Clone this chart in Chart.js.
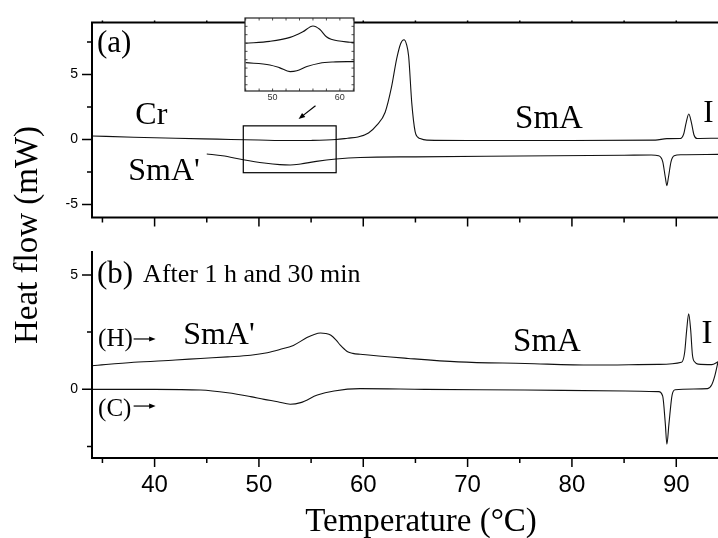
<!DOCTYPE html>
<html>
<head>
<meta charset="utf-8">
<script src="https://cdn.jsdelivr.net/npm/chart.js@4.4.1/dist/chart.umd.min.js"></script>
<style>
    html, body { margin: 0; padding: 0; background: #fff; overflow: hidden; }
    #wrap { position: relative; width: 718px; height: 538px; }
    canvas { position: absolute; }
</style>
</head>
<body>
<div id="wrap">
    <canvas id="bottomChart" width="718" height="538" style="left:0;top:0;width:718px;height:538px"></canvas>
    <canvas id="topChart" width="718" height="240" style="left:0;top:0;width:718px;height:240px"></canvas>
    <canvas id="insetChart" width="130" height="95" style="left:230px;top:10px;width:130px;height:95px"></canvas>
</div>
<script>
// Panel (a): heating run
const tempAHeat = [34, 38, 42, 46, 50, 53, 55, 57.4, 58.5, 59.5, 60.5, 61.3, 62.1, 62.7, 63.2, 63.6, 63.9, 64.15, 64.35, 64.65, 64.97, 65.2, 65.45, 66.1, 70, 80, 88, 89.1, 90.4, 90.7, 90.95, 91.2, 91.45, 91.7, 92.0, 94];
const flowAHeat = [0.27, 0.18, 0.1, 0.03, -0.04, -0.08, -0.07, 0.0, 0.1, 0.2, 0.5, 1.1, 2.1, 4.0, 6.2, 7.4, 7.67, 7.3, 6.4, 2.8, 0.6, 0.2, 0.07, -0.05, -0.08, -0.08, -0.05, 0.07, 0.08, 0.4, 1.3, 1.96, 1.3, 0.35, 0.08, 0.1];
// Panel (a): cooling run
const tempACool = [45.0, 46.5, 48.5, 50.5, 52, 53, 54, 55.5, 57.4, 59.7, 65, 75, 85, 87.6, 88.3, 88.7, 88.95, 89.1, 89.25, 89.5, 89.8, 90.5, 94];
const flowACool = [-1.11, -1.25, -1.55, -1.8, -1.93, -1.96, -1.88, -1.68, -1.5, -1.38, -1.33, -1.27, -1.21, -1.19, -1.25, -1.7, -2.9, -3.54, -2.9, -1.7, -1.25, -1.17, -1.14];

// Panel (b): heating run after 1 h 30 min
const tempBHeat = [34, 38, 42, 44.4, 47, 49.2, 50.8, 52, 53.3, 54.6, 55.3, 55.9, 56.4, 56.9, 57.4, 57.8, 58.2, 58.5, 59.0, 59.7, 64.3, 69.1, 75.5, 81.9, 88.3, 90.5, 90.8, 91.0, 91.19, 91.38, 91.55, 91.8, 92.1, 93.4, 94.0];
const flowBHeat = [1.03, 1.18, 1.28, 1.35, 1.42, 1.49, 1.6, 1.74, 1.92, 2.26, 2.4, 2.46, 2.44, 2.36, 2.15, 1.93, 1.75, 1.64, 1.57, 1.53, 1.35, 1.2, 1.13, 1.06, 1.09, 1.18, 1.6, 2.6, 3.3, 2.6, 1.5, 1.18, 1.1, 1.08, 1.2];
// Panel (b): cooling run
const tempBCool = [34, 40, 44.4, 47, 49.2, 50.5, 51.8, 53.0, 54.0, 55.6, 57.2, 59.7, 65.9, 75.5, 85.1, 88.3, 88.7, 88.95, 89.1, 89.3, 89.6, 89.9, 93.0, 93.4, 93.7, 94.0];
const flowBCool = [0.0, 0.0, -0.03, -0.15, -0.32, -0.44, -0.54, -0.65, -0.58, -0.25, -0.07, 0.03, 0.0, -0.03, -0.07, -0.1, -0.3, -1.5, -2.4, -1.5, -0.25, -0.02, 0.03, 0.2, 0.6, 1.2];

// Inset: magnified 46-62 °C region of panel (a)
const tempInsetUp = [46, 49.6, 52.6, 54.5, 56.0, 57.0, 58.0, 58.7, 61.5, 62.1];
const flowInsetUp = [-0.21, -0.12, 0.07, 0.34, 0.62, 0.46, 0.10, -0.02, -0.16, -0.17];
const tempInsetLow = [46, 49.6, 51, 52.6, 53.6, 55.1, 57.0, 59.0, 62.1];
const flowInsetLow = [-1.14, -1.25, -1.38, -1.57, -1.53, -1.33, -1.17, -1.11, -1.09];

// Tick values
const xTicks = [40, 50, 60, 70, 80, 90];
const xMinorTicks = [35, 45, 55, 65, 75, 85];
const yTicksA = [-5, 0, 5];
const yMinorA = [-2.5, 2.5, 7.5];
const yTicksB = [0, 5];
const yMinorB = [-2.5, 2.5];
const insetXTicks = [50, 60];
const insetXMinor = [46, 48, 52, 54, 56, 58, 62];
const insetYMinor = [-2.2, -1.8, -1.4, -1.0, -0.6, -0.2, 0.2, 0.6];

const SERIF = "'Liberation Serif', 'Times New Roman', serif";
const SANS = "'Liberation Sans', Arial, sans-serif";

function toPoints(xs, ys) {
    return xs.map((x, i) => ({ x: x, y: ys[i] }));
}

function curve(xs, ys) {
    return {
        data: toPoints(xs, ys),
        showLine: true,
        borderColor: "#111",
        borderWidth: 1.1,
        pointRadius: 0,
        cubicInterpolationMode: "monotone",
        fill: false
    };
}

// Draws the axis frame and the tick marks (major + minor)
function framePlugin(cfg) {
    return {
        id: "frame",
        afterDraw(chart) {
            const { ctx, chartArea: a, scales: { x, y } } = chart;
            ctx.save();
            ctx.strokeStyle = "#000";
            ctx.lineCap = "square";
            ctx.lineWidth = cfg.frameWidth;
            ctx.beginPath();
            if (cfg.top) { ctx.moveTo(a.left, a.top); ctx.lineTo(a.right, a.top); }
            if (cfg.right) { ctx.moveTo(a.right, a.top); ctx.lineTo(a.right, a.bottom); }
            ctx.moveTo(a.left, a.top); ctx.lineTo(a.left, a.bottom);
            ctx.moveTo(a.left, a.bottom); ctx.lineTo(a.right, a.bottom);
            ctx.stroke();

            ctx.lineCap = "butt";
            ctx.lineWidth = cfg.tickWidth;
            ctx.beginPath();
            (cfg.yMajor || []).forEach(v => {
                const py = y.getPixelForValue(v);
                ctx.moveTo(a.left - cfg.yMajorLen, py); ctx.lineTo(a.left, py);
            });
            (cfg.yMinor || []).forEach(v => {
                const py = y.getPixelForValue(v);
                ctx.moveTo(a.left - cfg.yMinorLen, py); ctx.lineTo(a.left, py);
            });
            (cfg.xMajor || []).forEach(v => {
                const px = x.getPixelForValue(v);
                ctx.moveTo(px, a.bottom); ctx.lineTo(px, a.bottom + cfg.xMajorLen);
                if (cfg.topTicks) { ctx.moveTo(px, a.top); ctx.lineTo(px, a.top + cfg.topTicks); }
            });
            (cfg.xMinor || []).forEach(v => {
                const px = x.getPixelForValue(v);
                ctx.moveTo(px, a.bottom); ctx.lineTo(px, a.bottom + cfg.xMinorLen);
                if (cfg.topTicks) { ctx.moveTo(px, a.top); ctx.lineTo(px, a.top + cfg.topTicks); }
            });
            ctx.stroke();
            ctx.restore();
        }
    };
}

function drawArrow(ctx, x1, y1, x2, y2, head) {
    const ang = Math.atan2(y2 - y1, x2 - x1);
    ctx.beginPath();
    ctx.moveTo(x1, y1);
    ctx.lineTo(x2 - Math.cos(ang) * head * 0.6, y2 - Math.sin(ang) * head * 0.6);
    ctx.stroke();
    ctx.beginPath();
    ctx.moveTo(x2, y2);
    ctx.lineTo(x2 - head * Math.cos(ang - 0.38), y2 - head * Math.sin(ang - 0.38));
    ctx.lineTo(x2 - head * Math.cos(ang + 0.38), y2 - head * Math.sin(ang + 0.38));
    ctx.closePath();
    ctx.fill();
}

// Text labels, arrows and the zoom box, placed in data coordinates
function notesPlugin(cfg) {
    return {
        id: "notes",
        afterDraw(chart) {
            const { ctx, scales: { x, y } } = chart;
            ctx.save();
            ctx.fillStyle = "#000";
            ctx.strokeStyle = "#000";
            ctx.textAlign = "left";
            ctx.textBaseline = "middle";
            (cfg.labels || []).forEach(l => {
                ctx.font = l.size + "px " + SERIF;
                ctx.fillText(l.text, x.getPixelForValue(l.x), y.getPixelForValue(l.y));
            });
            ctx.lineWidth = 1.2;
            (cfg.arrows || []).forEach(ar => {
                drawArrow(ctx, x.getPixelForValue(ar[0]), y.getPixelForValue(ar[1]),
                    x.getPixelForValue(ar[2]), y.getPixelForValue(ar[3]), 7);
            });
            (cfg.boxes || []).forEach(b => {
                const x1 = x.getPixelForValue(b[0]), y1 = y.getPixelForValue(b[1]);
                const x2 = x.getPixelForValue(b[2]), y2 = y.getPixelForValue(b[3]);
                ctx.lineWidth = 1.2;
                ctx.strokeRect(x1, y1, x2 - x1, y2 - y1);
            });
            if (cfg.axisTitles) {
                ctx.font = "33px " + SERIF;
                ctx.textAlign = "center";
                ctx.fillText("Temperature (°C)", 421, 522);
                ctx.translate(28, 235);
                ctx.rotate(-Math.PI / 2);
                ctx.fillText("Heat flow (mW)", 0, 0);
            }
            ctx.restore();
        }
    };
}

function mainOptions(yMin, yMax, yTicks, xHeight, showXLabels, padTop) {
    return {
        responsive: false,
        animation: false,
        layout: { padding: { top: padTop, left: 0, right: 0, bottom: 0 } },
        plugins: { legend: { display: false }, tooltip: { enabled: false } },
        scales: {
            x: {
                type: "linear",
                min: 34,
                max: 94,
                grid: { display: false, drawTicks: false },
                border: { display: false },
                afterBuildTicks: s => { s.ticks = xTicks.map(v => ({ value: v })); },
                afterFit: s => { s.height = xHeight; },
                ticks: {
                    display: showXLabels,
                    padding: 13,
                    color: "#000",
                    font: { family: SANS, size: 24 }
                }
            },
            y: {
                type: "linear",
                min: yMin,
                max: yMax,
                grid: { display: false, drawTicks: false },
                border: { display: false },
                afterBuildTicks: s => { s.ticks = yTicks.map(v => ({ value: v })); },
                afterFit: s => { s.width = 92; },
                ticks: {
                    padding: 14,
                    color: "#000",
                    font: { family: SANS, size: 14 }
                }
            }
        }
    };
}

// Panel (b) on the full-size canvas, with axis titles
new Chart(document.getElementById("bottomChart"), {
    type: "scatter",
    data: { datasets: [curve(tempBHeat, flowBHeat), curve(tempBCool, flowBCool)] },
    options: mainOptions(-3, 6, yTicksB, 80, true, 252),
    plugins: [
        framePlugin({ frameWidth: 2, tickWidth: 1.5, yMajor: yTicksB, yMinor: yMinorB, yMajorLen: 10, yMinorLen: 5,
            xMajor: xTicks, xMinor: xMinorTicks, xMajorLen: 9, xMinorLen: 5 }),
        notesPlugin({
            labels: [
                { text: "(b)", x: 34.48, y: 5.0, size: 31 },
                { text: "After 1 h and 30 min", x: 38.9, y: 4.97, size: 26 },
                { text: "(H)", x: 34.58, y: 2.17, size: 25 },
                { text: "(C)", x: 34.58, y: -0.87, size: 25 },
                { text: "SmA'", x: 42.74, y: 2.36, size: 32 },
                { text: "SmA", x: 74.36, y: 2.07, size: 33 },
                { text: "I", x: 92.43, y: 2.4, size: 33 }
            ],
            arrows: [[37.99, 2.2, 40.1, 2.2], [37.99, -0.73, 40.1, -0.73]],
            axisTitles: true
        })
    ]
});

// Panel (a)
new Chart(document.getElementById("topChart"), {
    type: "scatter",
    data: { datasets: [curve(tempAHeat, flowAHeat), curve(tempACool, flowACool)] },
    options: mainOptions(-6, 9, yTicksA, 19, false, 15),
    plugins: [
        framePlugin({ frameWidth: 2, tickWidth: 1.5, top: true, topTicks: -2, yMajor: yTicksA, yMinor: yMinorA, yMajorLen: 10, yMinorLen: 5,
            xMajor: xTicks, xMinor: xMinorTicks, xMajorLen: 9, xMinorLen: 5 }),
        notesPlugin({
            labels: [
                { text: "(a)", x: 34.48, y: 7.37, size: 31 },
                { text: "Cr", x: 38.15, y: 1.87, size: 32 },
                { text: "SmA'", x: 37.48, y: -2.43, size: 32 },
                { text: "SmA", x: 74.55, y: 1.58, size: 33 },
                { text: "I", x: 92.58, y: 1.97, size: 31 }
            ],
            arrows: [[55.42, 2.6, 53.8, 1.58]],
            boxes: [[48.5, 1.05, 57.4, -2.55]]
        })
    ]
});

// Inset
new Chart(document.getElementById("insetChart"), {
    type: "scatter",
    data: { datasets: [curve(tempInsetUp, flowInsetUp), curve(tempInsetLow, flowInsetLow)] },
    options: {
        responsive: false,
        animation: false,
        layout: { padding: { top: 8, left: 15, right: 6, bottom: 0 } },
        plugins: { legend: { display: false }, tooltip: { enabled: false } },
        scales: {
            x: {
                type: "linear",
                min: 45.9,
                max: 62.1,
                grid: { display: false, drawTicks: false },
                border: { display: false },
                afterBuildTicks: s => { s.ticks = insetXTicks.map(v => ({ value: v })); },
                afterFit: s => { s.height = 14; },
                ticks: { padding: 1, color: "#333", font: { family: SANS, size: 9 } }
            },
            y: {
                type: "linear",
                min: -2.5,
                max: 1.0,
                display: false
            }
        }
    },
    plugins: [
        {
            id: "insetBg",
            beforeDraw(chart) {
                const { ctx, chartArea: a } = chart;
                ctx.save();
                ctx.fillStyle = "#fff";
                ctx.fillRect(a.left, a.top, a.right - a.left, a.bottom - a.top);
                ctx.restore();
            }
        },
        {
            id: "insetFrame",
            afterDraw(chart) {
                const { ctx, chartArea: a, scales: { x, y } } = chart;
                ctx.save();
                ctx.strokeStyle = "#222";
                ctx.lineWidth = 1.2;
                ctx.strokeRect(a.left, a.top, a.right - a.left, a.bottom - a.top);
                ctx.lineWidth = 0.8;
                ctx.beginPath();
                insetYMinor.forEach(v => {
                    const py = y.getPixelForValue(v);
                    ctx.moveTo(a.left, py); ctx.lineTo(a.left + 2.5, py);
                    ctx.moveTo(a.right, py); ctx.lineTo(a.right - 2.5, py);
                });
                insetXTicks.concat(insetXMinor).forEach(v => {
                    const px = x.getPixelForValue(v);
                    ctx.moveTo(px, a.top); ctx.lineTo(px, a.top + 2.5);
                    ctx.moveTo(px, a.bottom); ctx.lineTo(px, a.bottom - 2.5);
                });
                ctx.stroke();
                ctx.restore();
            }
        }
    ]
});
</script>
</body>
</html>
